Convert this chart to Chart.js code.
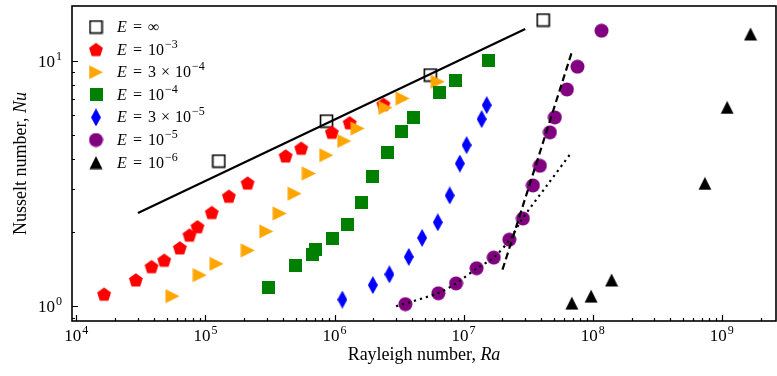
<!DOCTYPE html>
<html lang="en">
  <head>
    <title>nusselt-rayleigh</title>
    <meta charset="utf-8" />
    <script src="https://cdn.jsdelivr.net/npm/chart.js@4.4.9/dist/chart.umd.min.js"></script>
  </head>

  <body style="padding: 0; margin: 0; background: #fff">
    <canvas id="myChart" width="777" height="376" style="display: block"></canvas>

    <script>
      // E = infinity
      const raInf = [1.27e5, 8.67e5, 5.52e6, 4.13e7];
      const nuInf = [3.91, 5.69, 8.77, 14.7];
      // E = 1e-3
      const raE3 = [1.64e4, 2.89e4, 3.82e4, 4.79e4, 6.33e4, 7.52e4, 8.67e4, 1.12e5, 1.52e5, 2.12e5, 4.18e5, 5.52e5, 9.53e5, 1.31e6, 2.39e6];
      const nuE3 = [1.12, 1.28, 1.45, 1.54, 1.73, 1.95, 2.11, 2.41, 2.81, 3.18, 4.10, 4.41, 5.12, 5.60, 6.66];
      // E = 3e-4
      const raE34 = [5.56e4, 9.04e4, 1.22e5, 2.13e5, 2.96e5, 3.76e5, 4.91e5, 6.33e5, 8.63e5, 1.19e6, 1.51e6, 2.48e6, 3.37e6, 6.30e6];
      const nuE34 = [1.10, 1.34, 1.49, 1.69, 2.02, 2.39, 2.88, 3.48, 4.13, 4.72, 5.31, 6.45, 7.04, 8.23];
      // E = 1e-4
      const raE4 = [3.09e5, 4.99e5, 6.79e5, 7.13e5, 9.59e5, 1.27e6, 1.61e6, 1.98e6, 2.57e6, 3.28e6, 4.08e6, 6.49e6, 8.63e6, 1.55e7];
      const nuE4 = [1.19, 1.46, 1.62, 1.71, 1.89, 2.16, 2.66, 3.37, 4.25, 5.15, 5.89, 7.45, 8.34, 10.1];
      // E = 3e-5
      const raE35 = [1.15e6, 1.98e6, 2.66e6, 3.76e6, 4.77e6, 6.31e6, 7.80e6, 9.35e6, 1.055e7, 1.38e7, 1.51e7];
      const nuE35 = [1.065, 1.22, 1.35, 1.59, 1.90, 2.20, 2.83, 3.82, 4.54, 5.80, 6.61];
      // E = 1e-5
      const raE5 = [3.54e6, 6.37e6, 8.73e6, 1.26e7, 1.71e7, 2.26e7, 2.88e7, 3.44e7, 3.90e7, 4.66e7, 5.09e7, 6.31e7, 7.62e7, 1.17e8];
      const nuE5 = [1.02, 1.13, 1.24, 1.43, 1.58, 1.87, 2.28, 3.11, 3.74, 5.12, 5.89, 7.66, 9.48, 13.3];
      // E = 1e-6
      const raE6 = [6.89e7, 9.72e7, 1.40e8, 7.40e8, 1.10e9, 1.67e9];
      const nuE6 = [1.03, 1.10, 1.28, 3.17, 6.47, 12.9];

      // guide lines
      const fitRa = [3.0e4, 3.0e7];
      const fitNu = [2.40, 13.5];
      const steepRa = [2.0e7, 6.9e7];
      const steepNu = [1.41, 10.9];
      const onsetRa = [3.0e6, 6.37e6, 8.73e6, 1.26e7, 1.71e7, 2.26e7, 2.86e7, 4.44e7, 6.89e7];
      const onsetNu = [1.0, 1.133, 1.24, 1.425, 1.58, 1.86, 2.28, 3.12, 4.26];

      // legend text pieces after "E =": [mantissa, base, exponent]
      const legendLabels = [
        ["", "\u221E", ""],
        ["", "10", "\u22123"],
        ["3", "10", "\u22124"],
        ["", "10", "\u22124"],
        ["3", "10", "\u22125"],
        ["", "10", "\u22125"],
        ["", "10", "\u22126"],
      ];

      const serif = '"Liberation Serif", "DejaVu Serif", serif';

      const pts = (xs, ys) => xs.map((x, i) => ({ x: x, y: ys[i] }));
      const isDecade = (v) => Math.abs(Math.log10(v) - Math.round(Math.log10(v))) < 1e-9;

      function logTicks(min, max) {
        const out = [];
        for (let e = Math.floor(Math.log10(min)) - 1; e <= Math.ceil(Math.log10(max)); e++) {
          for (let m = 1; m <= 9; m++) {
            const v = m * Math.pow(10, e);
            if (v >= min && v <= max) out.push({ value: v });
          }
        }
        return out;
      }

      function marker(w, h, draw) {
        const c = document.createElement("canvas");
        c.width = w;
        c.height = h;
        draw(c.getContext("2d"), w, h);
        return c;
      }

      const squareOpen = marker(15, 15, (g) => {
        g.strokeStyle = "#000";
        g.lineWidth = 1.6;
        g.strokeRect(1.5, 1.5, 12, 12);
      });
      const pentagon = marker(16, 16, (g, w, h) => {
        g.beginPath();
        for (let i = 0; i < 5; i++) {
          const a = -Math.PI / 2 + (i * 2 * Math.PI) / 5;
          const px = w / 2 + 7.3 * Math.cos(a);
          const py = h / 2 + 0.6 + 7.3 * Math.sin(a);
          i ? g.lineTo(px, py) : g.moveTo(px, py);
        }
        g.closePath();
        g.fillStyle = "#ff0000";
        g.fill();
      });
      const triRight = marker(15, 15, (g, w, h) => {
        g.beginPath();
        g.moveTo(0.5, 0.5);
        g.lineTo(w - 0.5, h / 2);
        g.lineTo(0.5, h - 0.5);
        g.closePath();
        g.fillStyle = "#ffa500";
        g.fill();
      });
      const squareFill = marker(13, 13, (g, w, h) => {
        g.fillStyle = "#008000";
        g.fillRect(0, 0, w, h);
      });
      const diamond = marker(10, 18, (g, w, h) => {
        g.beginPath();
        g.moveTo(w / 2, 0);
        g.lineTo(w, h / 2);
        g.lineTo(w / 2, h);
        g.lineTo(0, h / 2);
        g.closePath();
        g.fillStyle = "#0000ff";
        g.fill();
      });
      const circle = marker(15, 15, (g, w, h) => {
        g.beginPath();
        g.arc(w / 2, h / 2, 7, 0, 2 * Math.PI);
        g.fillStyle = "#800080";
        g.fill();
      });
      const triUp = marker(14, 14, (g, w, h) => {
        g.beginPath();
        g.moveTo(w / 2, 0.5);
        g.lineTo(w - 0.5, h - 0.5);
        g.lineTo(0.5, h - 0.5);
        g.closePath();
        g.fillStyle = "#000";
        g.fill();
      });
      const legendMarkers = [squareOpen, pentagon, triRight, squareFill, diamond, circle, triUp];

      function markerSet(label, xs, ys, img, order) {
        return { label: label, data: pts(xs, ys), pointStyle: img, pointRadius: 6, order: order, showLine: false };
      }

      function lineSet(label, xs, ys, dash, tension) {
        return {
          label: label,
          data: pts(xs, ys),
          showLine: true,
          pointRadius: 0,
          borderColor: "#000",
          borderWidth: 2.2,
          borderDash: dash,
          tension: tension,
          order: 0,
        };
      }

      // "10" with a raised exponent; y is the baseline of "10"
      function drawPow(ctx, exp, x, y, align) {
        ctx.font = `17px ${serif}`;
        const w1 = ctx.measureText("10").width;
        ctx.font = `12px ${serif}`;
        const w2 = ctx.measureText(exp).width;
        const total = w1 + 1 + w2;
        const x0 = align === "center" ? x - total / 2 : x - total;
        ctx.font = `17px ${serif}`;
        ctx.fillText("10", x0, y);
        ctx.font = `12px ${serif}`;
        ctx.fillText(exp, x0 + w1 + 1, y - 7);
      }

      function drawTitle(ctx, plain, italic, cx, cy) {
        ctx.font = `18px ${serif}`;
        const w1 = ctx.measureText(plain).width;
        ctx.font = `italic 18px ${serif}`;
        const w2 = ctx.measureText(italic).width;
        const x0 = cx - (w1 + w2) / 2;
        ctx.font = `18px ${serif}`;
        ctx.fillText(plain, x0, cy);
        ctx.font = `italic 18px ${serif}`;
        ctx.fillText(italic, x0 + w1, cy);
      }

      const framePlugin = {
        id: "frame",
        afterDraw(chart) {
          const { ctx, chartArea: a, scales } = chart;
          ctx.save();
          ctx.strokeStyle = "#000";
          ctx.fillStyle = "#000";
          ctx.lineWidth = 1.2;
          ctx.beginPath();
          for (const t of scales.x.ticks) {
            const px = Math.round(scales.x.getPixelForValue(t.value)) + 0.5;
            ctx.moveTo(px, a.bottom);
            ctx.lineTo(px, a.bottom - (isDecade(t.value) ? 6 : 3));
          }
          for (const t of scales.y.ticks) {
            const py = Math.round(scales.y.getPixelForValue(t.value)) + 0.5;
            ctx.moveTo(a.left, py);
            ctx.lineTo(a.left + (isDecade(t.value) ? 6 : 3), py);
          }
          ctx.stroke();
          ctx.lineWidth = 1.6;
          ctx.strokeRect(a.left, a.top, a.right - a.left, a.bottom - a.top);

          // tick labels
          ctx.textBaseline = "alphabetic";
          ctx.textAlign = "left";
          for (const t of scales.x.ticks) {
            if (!isDecade(t.value)) continue;
            const px = scales.x.getPixelForValue(t.value);
            drawPow(ctx, String(Math.round(Math.log10(t.value))), px, a.bottom + 20, "center");
          }
          for (const t of scales.y.ticks) {
            if (!isDecade(t.value)) continue;
            const py = scales.y.getPixelForValue(t.value);
            drawPow(ctx, String(Math.round(Math.log10(t.value))), a.left - 10, py + 6, "right");
          }

          // axis titles
          ctx.textBaseline = "middle";
          drawTitle(ctx, "Rayleigh number, ", "Ra", (a.left + a.right) / 2, 355);
          ctx.save();
          ctx.translate(21, (a.top + a.bottom) / 2);
          ctx.rotate(-Math.PI / 2);
          drawTitle(ctx, "Nusselt number, ", "Nu", 0, 0);
          ctx.restore();

          // legend
          ctx.textBaseline = "alphabetic";
          legendLabels.forEach(([mant, base, exp], i) => {
            const y = 27 + i * 22.6;
            const img = legendMarkers[i];
            ctx.drawImage(img, 96 - img.width / 2, y - img.height / 2);
            const yb = y + 5;
            ctx.font = `italic 16px ${serif}`;
            ctx.fillText("E", 117, yb);
            ctx.font = `16px ${serif}`;
            ctx.fillText("=", 133, yb);
            let x = 148;
            if (mant) {
              ctx.fillText(mant, x, yb);
              x += ctx.measureText(mant).width + 5;
              ctx.fillText("\u00D7", x, yb);
              x += ctx.measureText("\u00D7").width + 5;
            }
            ctx.fillText(base, x, yb);
            x += ctx.measureText(base).width + 1;
            if (exp) {
              ctx.font = `12px ${serif}`;
              ctx.fillText(exp, x, yb - 7);
            }
          });
          ctx.restore();
        },
      };

      new Chart(document.getElementById("myChart"), {
        type: "scatter",
        data: {
          datasets: [
            lineSet("fit", fitRa, fitNu, [], 0),
            lineSet("steep", steepRa, steepNu, [7, 4], 0),
            lineSet("onset", onsetRa, onsetNu, [2.2, 4], 0.3),
            markerSet("E = 10^-6", raE6, nuE6, triUp, 1),
            markerSet("E = 10^-5", raE5, nuE5, circle, 2),
            markerSet("E = 3x10^-5", raE35, nuE35, diamond, 3),
            markerSet("E = 10^-4", raE4, nuE4, squareFill, 4),
            markerSet("E = 3x10^-4", raE34, nuE34, triRight, 5),
            markerSet("E = 10^-3", raE3, nuE3, pentagon, 6),
            markerSet("E = inf", raInf, nuInf, squareOpen, 7),
          ],
        },
        plugins: [framePlugin],
        options: {
          responsive: false,
          animation: false,
          events: [],
          layout: { autoPadding: false, padding: { top: 6, right: 1, left: 0, bottom: 0 } },
          plugins: { legend: { display: false }, tooltip: { enabled: false } },
          scales: {
            x: {
              type: "logarithmic",
              min: 9250,
              max: 2.63e9,
              grid: { display: false, drawTicks: false },
              border: { display: false },
              ticks: { display: false },
              afterBuildTicks: (scale) => { scale.ticks = logTicks(scale.min, scale.max); },
              afterFit: (scale) => {
                scale.height = 55;
                scale.paddingLeft = 0;
                scale.paddingRight = 0;
              },
            },
            y: {
              type: "logarithmic",
              min: 0.871,
              max: 16.77,
              grid: { display: false, drawTicks: false },
              border: { display: false },
              ticks: { display: false },
              afterBuildTicks: (scale) => { scale.ticks = logTicks(scale.min, scale.max); },
              afterFit: (scale) => {
                scale.width = 72;
                scale.paddingTop = 0;
                scale.paddingBottom = 0;
              },
            },
          },
        },
      });
    </script>
  </body>
</html>
